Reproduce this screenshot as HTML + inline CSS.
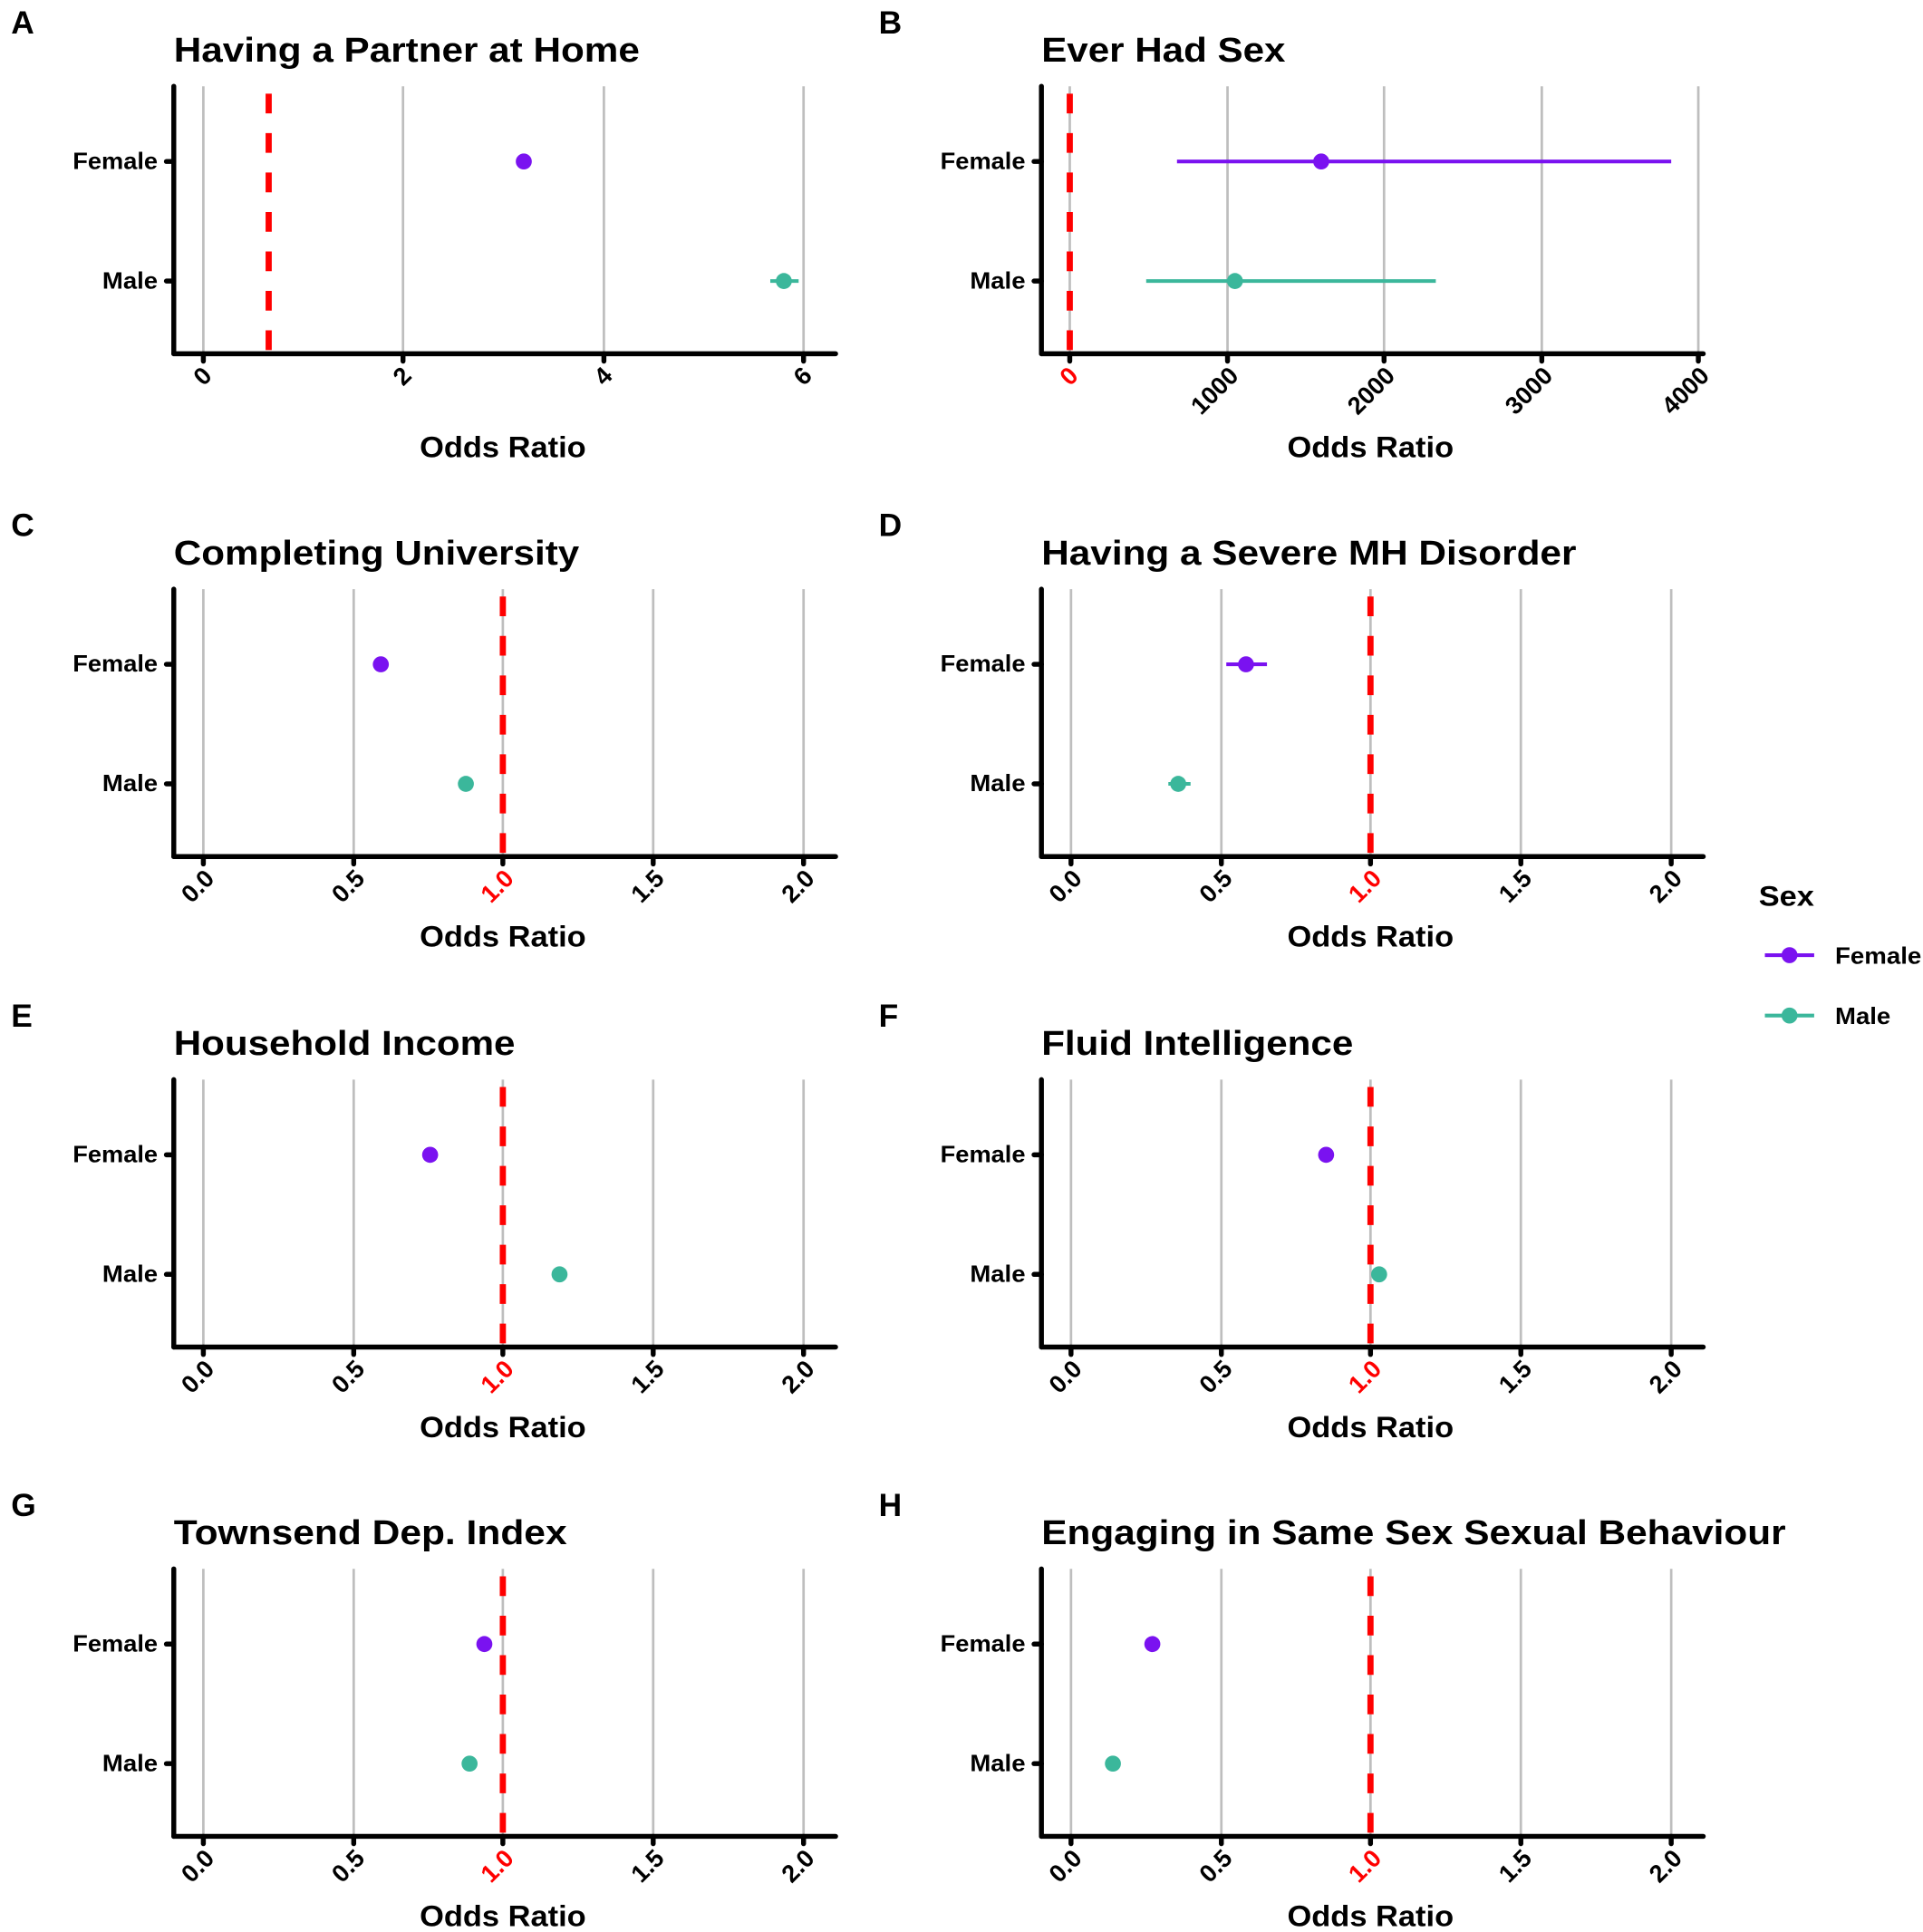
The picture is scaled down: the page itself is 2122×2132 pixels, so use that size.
<!DOCTYPE html>
<html><head><meta charset="utf-8"><style>
html,body{margin:0;padding:0;background:#fff;}
svg{display:block;}
text{font-family:"Liberation Sans",Arial,sans-serif;font-weight:bold;fill:#000;}
.t{font-size:28px;}
.l{font-size:26px;}
.y{font-size:19px;text-anchor:end;}
.k{font-size:20px;text-anchor:end;}
.o{font-size:24px;text-anchor:middle;}
.ax{stroke:#000;stroke-width:4;stroke-linecap:round;fill:none;}
.g{stroke:#bebebe;stroke-width:2;}
.r{stroke:#ff0000;stroke-width:5;stroke-dasharray:16 16;}
.f{fill:#7a12f0;} .m{fill:#3bb79b;}
.fl{stroke:#7a12f0;stroke-width:3;} .ml{stroke:#3bb79b;stroke-width:3;}
</style></head><body>
<svg width="2122" height="2132" viewBox="0 0 1560.3 1567.6" xmlns="http://www.w3.org/2000/svg">
<defs>
<g id="frame">
<line class="ax" x1="0" y1="-217" x2="0" y2="0"/>
<line class="ax" x1="0" y1="0" x2="537" y2="0"/>
<line class="ax" x1="-6" y1="-156" x2="0" y2="-156"/>
<line class="ax" x1="-6" y1="-59" x2="0" y2="-59"/>
<text class="y" x="-13" y="-150" textLength="69" lengthAdjust="spacingAndGlyphs">Female</text>
<text class="y" x="-13" y="-53" textLength="45" lengthAdjust="spacingAndGlyphs">Male</text>
</g>
<g id="std">
<line class="g" x1="24" y1="-217" x2="24" y2="0"/><line class="g" x1="146" y1="-217" x2="146" y2="0"/><line class="g" x1="267" y1="-217" x2="267" y2="0"/><line class="g" x1="389" y1="-217" x2="389" y2="0"/><line class="g" x1="511" y1="-217" x2="511" y2="0"/>
<use href="#frame"/>
<line class="ax" x1="24" y1="0" x2="24" y2="6"/><line class="ax" x1="146" y1="0" x2="146" y2="6"/><line class="ax" x1="267" y1="0" x2="267" y2="6"/><line class="ax" x1="389" y1="0" x2="389" y2="6"/><line class="ax" x1="511" y1="0" x2="511" y2="6"/>
<text class="k" transform="translate(34,19) rotate(-45)">0.0</text>
<text class="k" transform="translate(156,19) rotate(-45)">0.5</text>
<text class="k" transform="translate(277,19) rotate(-45)" style="fill:#ff0000">1.0</text>
<text class="k" transform="translate(399,19) rotate(-45)">1.5</text>
<text class="k" transform="translate(521,19) rotate(-45)">2.0</text>
<line class="r" x1="267" y1="-211" x2="267" y2="0"/>
<text class="o" x="267" y="73" textLength="135" lengthAdjust="spacingAndGlyphs">Odds Ratio</text>
</g>
</defs>

<!-- A -->
<g transform="translate(141,287)">
<line class="g" x1="24" y1="-217" x2="24" y2="0"/><line class="g" x1="186" y1="-217" x2="186" y2="0"/><line class="g" x1="349" y1="-217" x2="349" y2="0"/><line class="g" x1="511" y1="-217" x2="511" y2="0"/>
<use href="#frame"/>
<line class="ax" x1="24" y1="0" x2="24" y2="6"/><line class="ax" x1="186" y1="0" x2="186" y2="6"/><line class="ax" x1="349" y1="0" x2="349" y2="6"/><line class="ax" x1="511" y1="0" x2="511" y2="6"/>
<text class="k" transform="translate(32,19) rotate(-45)">0</text>
<text class="k" transform="translate(194,19) rotate(-45)">2</text>
<text class="k" transform="translate(357,19) rotate(-45)">4</text>
<text class="k" transform="translate(519,19) rotate(-45)">6</text>
<line class="r" x1="77" y1="-211" x2="77" y2="0"/>
<circle class="f" cx="284" cy="-156" r="6.5"/>
<line class="ml" x1="484" y1="-59" x2="507" y2="-59"/><circle class="m" cx="495" cy="-59" r="6.5"/>
<text class="o" x="267" y="84" textLength="135" lengthAdjust="spacingAndGlyphs">Odds Ratio</text>
<text class="t" x="0" y="-237" textLength="378" lengthAdjust="spacingAndGlyphs">Having a Partner at Home</text>
<text class="l" x="-132" y="-260">A</text>
</g>

<!-- B -->
<g transform="translate(845,287)">
<line class="g" x1="23" y1="-217" x2="23" y2="0"/><line class="g" x1="151" y1="-217" x2="151" y2="0"/><line class="g" x1="278" y1="-217" x2="278" y2="0"/><line class="g" x1="406" y1="-217" x2="406" y2="0"/><line class="g" x1="533" y1="-217" x2="533" y2="0"/>
<use href="#frame"/>
<line class="ax" x1="23" y1="0" x2="23" y2="6"/><line class="ax" x1="151" y1="0" x2="151" y2="6"/><line class="ax" x1="278" y1="0" x2="278" y2="6"/><line class="ax" x1="406" y1="0" x2="406" y2="6"/><line class="ax" x1="533" y1="0" x2="533" y2="6"/>
<text class="k" transform="translate(31,19) rotate(-45)" style="fill:#ff0000">0</text>
<text class="k" transform="translate(161,19) rotate(-45)">1000</text>
<text class="k" transform="translate(288,19) rotate(-45)">2000</text>
<text class="k" transform="translate(416,19) rotate(-45)">3000</text>
<text class="k" transform="translate(543,19) rotate(-45)">4000</text>
<line class="r" x1="23" y1="-211" x2="23" y2="0"/>
<line class="fl" x1="110" y1="-156" x2="511" y2="-156"/><circle class="f" cx="227" cy="-156" r="6.5"/>
<line class="ml" x1="85" y1="-59" x2="320" y2="-59"/><circle class="m" cx="157" cy="-59" r="6.5"/>
<text class="o" x="267" y="84" textLength="135" lengthAdjust="spacingAndGlyphs">Odds Ratio</text>
<text class="t" x="0" y="-237" textLength="198" lengthAdjust="spacingAndGlyphs">Ever Had Sex</text>
<text class="l" x="-132" y="-260">B</text>
</g>

<!-- C -->
<g transform="translate(141,695)">
<use href="#std"/>
<circle class="f" cx="168" cy="-156" r="6.5"/><circle class="m" cx="237" cy="-59" r="6.5"/>
<text class="t" x="0" y="-237" textLength="329" lengthAdjust="spacingAndGlyphs">Completing University</text>
<text class="l" x="-132" y="-260">C</text>
</g>

<!-- D -->
<g transform="translate(845,695)">
<use href="#std"/>
<line class="fl" x1="150" y1="-156" x2="183" y2="-156"/><circle class="f" cx="166" cy="-156" r="6.5"/>
<line class="ml" x1="103" y1="-59" x2="121" y2="-59"/><circle class="m" cx="111" cy="-59" r="6.5"/>
<text class="t" x="0" y="-237" textLength="434" lengthAdjust="spacingAndGlyphs">Having a Severe MH Disorder</text>
<text class="l" x="-132" y="-260">D</text>
</g>

<!-- E -->
<g transform="translate(141,1093)">
<use href="#std"/>
<circle class="f" cx="208" cy="-156" r="6.5"/><circle class="m" cx="313" cy="-59" r="6.5"/>
<text class="t" x="0" y="-237" textLength="277" lengthAdjust="spacingAndGlyphs">Household Income</text>
<text class="l" x="-132" y="-260">E</text>
</g>

<!-- F -->
<g transform="translate(845,1093)">
<use href="#std"/>
<circle class="f" cx="231" cy="-156" r="6.5"/><circle class="m" cx="274" cy="-59" r="6.5"/>
<text class="t" x="0" y="-237" textLength="253" lengthAdjust="spacingAndGlyphs">Fluid Intelligence</text>
<text class="l" x="-132" y="-260">F</text>
</g>

<!-- G -->
<g transform="translate(141,1490)">
<use href="#std"/>
<circle class="f" cx="252" cy="-156" r="6.5"/><circle class="m" cx="240" cy="-59" r="6.5"/>
<text class="t" x="0" y="-237" textLength="319" lengthAdjust="spacingAndGlyphs">Townsend Dep. Index</text>
<text class="l" x="-132" y="-260">G</text>
</g>

<!-- H -->
<g transform="translate(845,1490)">
<use href="#std"/>
<circle class="f" cx="90" cy="-156" r="6.5"/><circle class="m" cx="58" cy="-59" r="6.5"/>
<text class="t" x="0" y="-237" textLength="604" lengthAdjust="spacingAndGlyphs">Engaging in Same Sex Sexual Behaviour</text>
<text class="l" x="-132" y="-260">H</text>
</g>

<!-- Legend -->
<text x="1427" y="735" style="font-size:23px" textLength="45" lengthAdjust="spacingAndGlyphs">Sex</text>
<line class="fl" x1="1432" y1="775" x2="1472" y2="775"/><circle class="f" cx="1452" cy="775" r="6.5"/>
<text x="1489" y="782" style="font-size:19px" textLength="70" lengthAdjust="spacingAndGlyphs">Female</text>
<line class="ml" x1="1432" y1="824" x2="1472" y2="824"/><circle class="m" cx="1452" cy="824" r="6.5"/>
<text x="1489" y="831" style="font-size:19px" textLength="45" lengthAdjust="spacingAndGlyphs">Male</text>
</svg>
</body></html>
